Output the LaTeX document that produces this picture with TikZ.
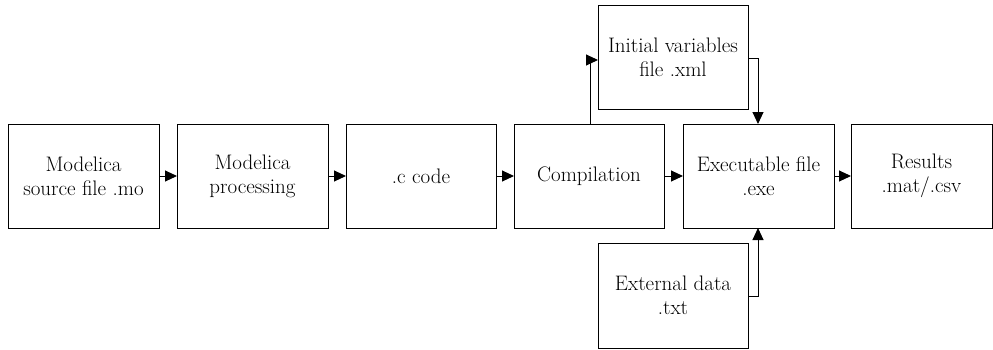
\documentclass[tikz,border=0pt]{standalone}
\usetikzlibrary{arrows.meta}
\begin{document}
\begin{tikzpicture}[x=1pt,y=-1pt,
  box/.style={draw, line width=1pt, inner sep=0pt, align=center, font=\fontsize{21}{24}\selectfont},
  conn/.style={line width=1pt, -{Triangle[length=12pt,width=11pt]}}]
\useasboundingbox (0,0) rectangle (993,349);
\path[box] (8,124) rectangle (159,228) node[midway] (a) {Modelica\\source file .mo};
\path[box] (177,124) rectangle (328,228) node[midway] (b) {Modelica\\processing};
\path[box] (346,124) rectangle (496,228) node[midway] (c) {.c code};
\path[box] (514,124) rectangle (664,228) node[midway] (d) {Compilation};
\path[box] (683,124) rectangle (834,228) node[midway] (e) {Executable file\\.exe};
\path[box] (851,124) rectangle (992,228) node[midway] (f) {Results\\.mat/.csv};
\path[box] (598,5) rectangle (748,109) node[midway] (g) {Initial variables\\file .xml};
\path[box] (598,243) rectangle (748,348) node[midway] (h) {External data\\.txt};
\coordinate (a1) at (159,176); \coordinate (b0) at (177,176);
\coordinate (b1) at (328,176); \coordinate (c0) at (346,176);
\coordinate (c1) at (496,176); \coordinate (d0) at (514,176);
\coordinate (d1) at (664,176); \coordinate (e0) at (683,176);
\coordinate (e1) at (834,176); \coordinate (f0) at (851,176);
\draw[conn] (a1) -- (b0);
\draw[conn] (b1) -- (c0);
\draw[conn] (c1) -- (d0);
\draw[conn] (d1) -- (e0);
\draw[conn] (e1) -- (f0);
\coordinate (dt) at (590,124); \coordinate (gl) at (598,60);
\draw[conn] (dt) |- (gl);
\coordinate (gr) at (748,58); \coordinate (et) at (758,124);
\draw[conn] (gr) -| (et);
\coordinate (hr) at (748,296); \coordinate (eb) at (758,228);
\draw[conn] (hr) -| (eb);
\end{tikzpicture}
\end{document}
